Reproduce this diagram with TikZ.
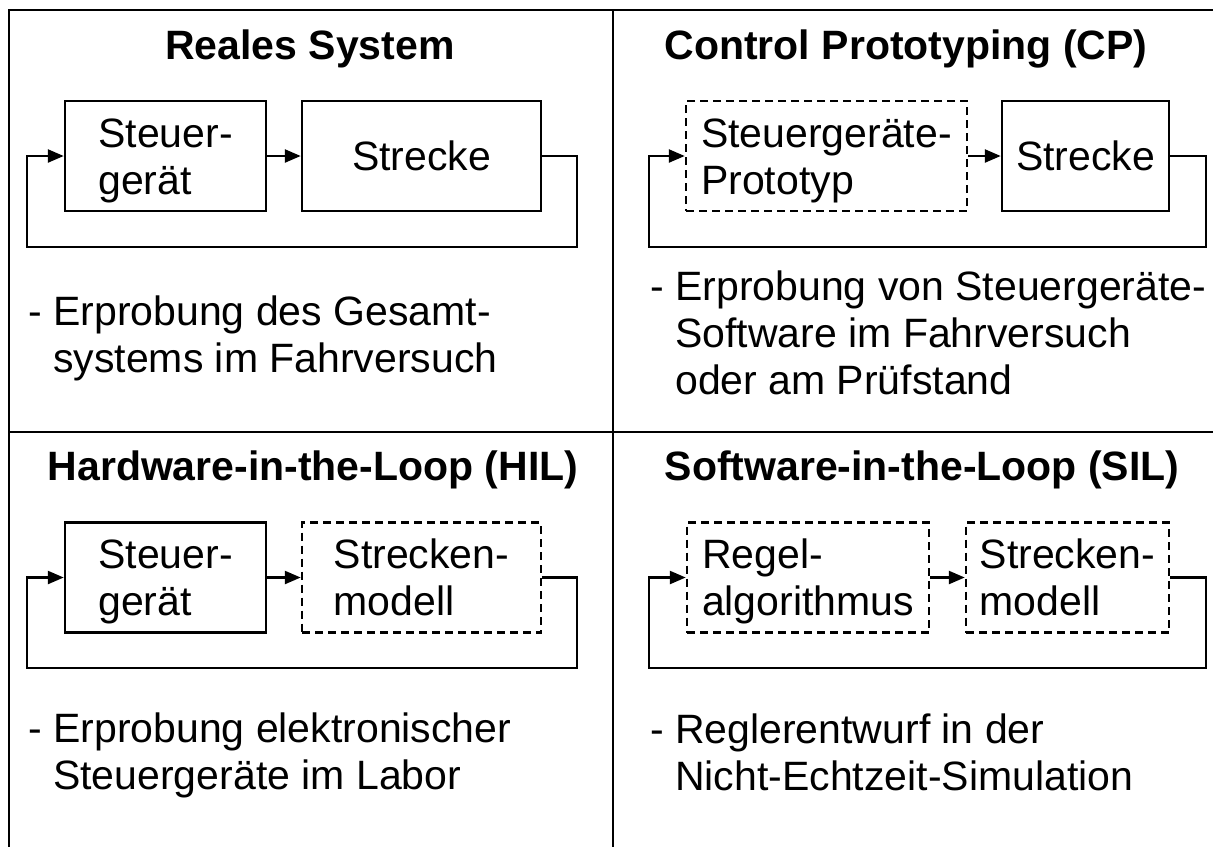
\documentclass[tikz,border=0pt]{standalone}
\usepackage{fontspec}
\setmainfont{Liberation Sans}
\usetikzlibrary{arrows.meta,calc}
\newcommand{\twol}[1]{\begin{tabular}[t]{@{}l@{}}#1\end{tabular}}
\begin{document}
\begin{tikzpicture}[x=1pt,y=-1pt,font=\fontsize{41}{47}\selectfont]
\tikzset{
 frame/.style={line width=2.5pt},
 blk/.style={draw, line width=2.5pt, inner sep=0pt, minimum height=110pt, text height=29.4pt, text depth=47pt},
 oneline/.style={text depth=0pt},
 dsh/.style={dash pattern=on 8pt off 5pt},
 arr/.style={line width=2.5pt, -{Triangle[length=16pt,width=13pt]}},
 ttl/.style={font=\fontsize{41}{47}\selectfont\bfseries, anchor=base, inner sep=0pt},
 desc/.style={anchor=base west, inner sep=0pt},
}
\useasboundingbox (0,0) rectangle (1213,847);
% frame
\draw[frame] (8,10) -- (1213,10);
\draw[frame] (9,10) -- (9,847);
\draw[frame] (613,10) -- (613,847);
\draw[frame] (9,432) -- (1213,432);

% ---------- Reales System
\node[ttl] (tA) at (310,59) {Reales System};
\node[blk, minimum width=201pt] (A1) at (165.5,156) {\twol{Steuer-\\gerät}};
\node[blk, oneline, minimum width=239pt] (A2) at (421.5,156) {Strecke};
\draw[arr] (A1) -- (A2);
\coordinate (fA) at (577,247);
\draw[arr] (A2.east) -| (fA) -| ([xshift=-37pt]A1.west) -- (A1.west);
\node[desc] (dA) at (28,325) {\twol{- Erprobung des Gesamt-\\\hspace*{25pt}systems im Fahrversuch}};

% ---------- Control Prototyping
\node[ttl] (tB) at (906,59) {Control Prototyping (CP)};
\node[blk, dsh, minimum width=281pt] (B1) at (826.5,156) {\twol{Steuergeräte-\\Prototyp}};
\node[blk, oneline, minimum width=167pt] (B2) at (1085.5,156) {Strecke};
\draw[arr] (B1) -- (B2);
\coordinate (fB) at (1206,247);
\draw[arr] (B2.east) -| (fB) -| ([xshift=-36pt]B1.west) -- (B1.west);
\node[desc] (dB) at (650,300) {\twol{- Erprobung von Steuergeräte-\\\hspace*{25pt}Software im Fahrversuch\\\hspace*{25pt}oder am Prüfstand}};

% ---------- HIL
\node[ttl] (tC) at (313,480) {Hardware-in-the-Loop (HIL)};
\node[blk, minimum width=201pt] (C1) at (165.5,577.5) {\twol{Steuer-\\gerät}};
\node[blk, dsh, minimum width=239pt] (C2) at (421.5,577.5) {\twol{Strecken-\\modell}};
\draw[arr] (C1) -- (C2);
\coordinate (fC) at (577,668);
\draw[arr] (C2.east) -| (fC) -| ([xshift=-37pt]C1.west) -- (C1.west);
\node[desc] (dC) at (28,742) {\twol{- Erprobung elektronischer\\\hspace*{25pt}Steuergeräte im Labor}};

% ---------- SIL
\node[ttl] (tD) at (922,480) {Software-in-the-Loop (SIL)};
\node[blk, dsh, minimum width=242pt] (D1) at (808,577.5) {\twol{Regel-\\algorithmus}};
\node[blk, dsh, minimum width=203pt] (D2) at (1067.5,577.5) {\twol{Strecken-\\modell}};
\draw[arr] (D1) -- (D2);
\coordinate (fD) at (1206,668);
\draw[arr] (D2.east) -| (fD) -| ([xshift=-37pt]D1.west) -- (D1.west);
\node[desc] (dD) at (650,743) {\twol{- Reglerentwurf in der\\\hspace*{25pt}Nicht-Echtzeit-Simulation}};
\end{tikzpicture}
\end{document}
